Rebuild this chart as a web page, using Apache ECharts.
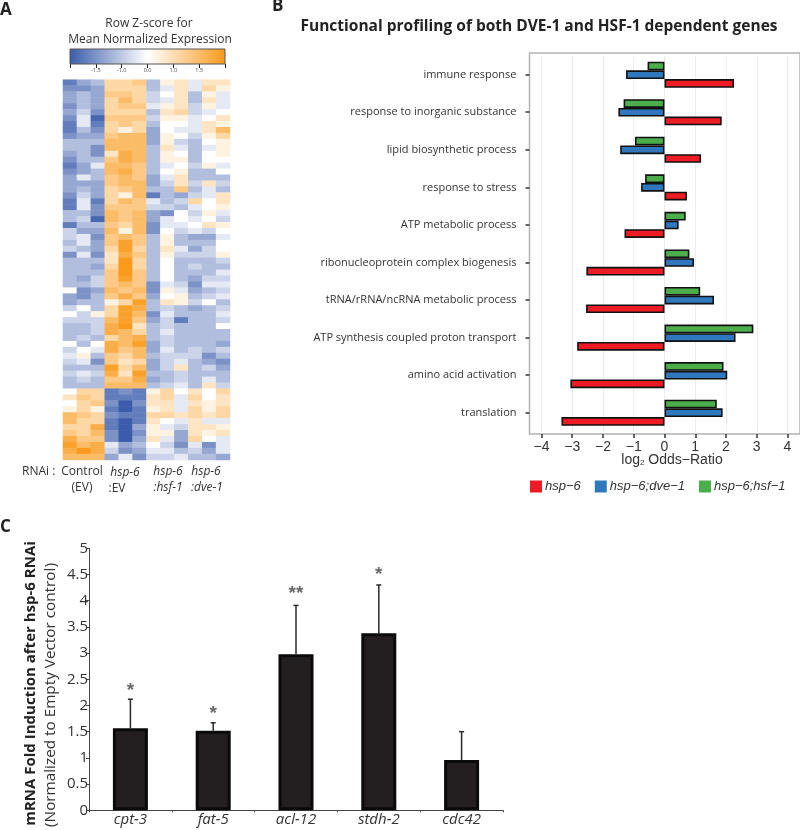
<!DOCTYPE html>
<html><head><meta charset="utf-8">
<style>html,body{margin:0;padding:0;background:#fff}#c{width:800px;height:830px}</style>
<script src="https://cdn.jsdelivr.net/npm/echarts@6/dist/echarts.min.js"></script>
</head><body><div id="c"></div>
<script>
// Panel A: heatmap (rows top to bottom; 3 replicates each of 4 conditions; scale -9..9)
const heatColumns = ['C1','C2','C3','H1','H2','H3','S1','S2','S3','D1','D2','D3'];
const heatValues = [
[-6,-4,-3,3,3,4,-3,1,2,-1,2,2],
[-5,-5,-4,3,3,3,-3,-1,2,-1,3,1],
[-4,-3,-4,4,4,3,-2,0,2,-3,1,-1],
[-4,-3,-4,3,5,3,-2,-1,2,-3,2,-1],
[-5,-3,-4,3,4,4,-1,1,2,-2,1,-1],
[-4,-2,-5,3,3,3,-3,2,3,-2,-1,0],
[-5,-1,-7,4,4,4,-2,1,1,-1,0,2],
[-6,-1,-6,3,4,3,-3,0,0,-1,2,1],
[-6,-3,-5,3,1,3,-4,0,-1,-1,2,5],
[-5,-4,-4,4,5,5,-4,1,0,-2,1,3],
[-3,-3,-3,5,5,5,-4,1,-2,-3,0,1],
[-3,-3,-5,5,5,5,-3,2,-1,-3,-1,1],
[-4,-3,-5,2,6,5,-3,1,0,-3,0,1],
[-5,-3,-3,4,6,5,-3,1,1,-3,0,0],
[-6,-4,-1,5,5,4,-3,-1,0,-2,1,-1],
[-5,-4,-3,5,6,4,-3,0,1,-3,-3,0],
[-4,-1,-3,4,5,4,-4,-1,2,-3,-3,-3],
[-4,-4,-4,4,5,5,-4,-2,2,-2,2,-2],
[-4,-3,-4,3,4,5,-3,-3,4,-3,-1,-3],
[-5,-2,-4,3,1,5,-6,-3,-4,-2,-1,2],
[-6,-1,-6,3,5,4,-1,-3,-2,3,0,2],
[-6,-1,-5,4,4,4,-2,-2,-3,-1,0,1],
[-3,-3,-5,5,4,5,-4,-5,0,-2,1,-1],
[-3,-2,-7,5,4,5,-4,-1,0,-1,0,-2],
[-6,-3,-3,4,3,5,-5,-1,-1,0,2,1],
[-2,-4,-4,5,1,5,-5,0,-2,-1,-2,0],
[-2,-1,-5,4,5,4,-3,1,-3,-4,-4,-1],
[-3,-1,-4,4,7,4,-3,1,-3,-3,-3,0],
[-2,-3,-4,3,7,3,-3,2,-1,-4,-2,0],
[-5,-1,-5,2,6,4,-3,1,-2,-2,-2,1],
[-3,-3,-3,2,9,3,-3,0,-3,-3,-3,-2],
[-3,-3,-4,3,9,3,-3,0,-3,-2,-3,-3],
[-3,-3,-3,4,8,4,-3,0,-3,-3,-3,-1],
[-3,-4,-2,4,7,4,-3,0,-3,-4,-2,-2],
[-3,-3,-2,4,5,4,-5,-1,-2,-5,-1,-1],
[0,-5,-4,5,4,5,-5,1,-1,-4,-3,-2],
[-4,-5,-3,4,6,4,-4,0,1,-3,-2,-1],
[-4,-3,-3,1,3,7,-3,2,1,-2,0,-3],
[-2,0,-3,3,7,6,-3,-2,-3,-4,-3,-2],
[0,-2,1,3,7,5,-5,-1,-3,-3,-3,-1],
[-2,-2,-2,5,7,4,-4,-2,-6,-3,-3,-2],
[-3,-3,-2,6,8,2,-3,-2,-3,-3,-3,0],
[-3,-3,-2,6,5,3,-3,-1,-3,-3,-3,-3],
[-3,-2,-3,3,5,6,-3,-2,-3,-3,-3,-3],
[0,-3,0,6,5,7,-4,-2,-3,-3,-3,-4],
[-2,0,-1,6,4,5,-4,-1,-3,-2,-3,-2],
[-1,1,-3,4,3,5,-3,-2,-2,-2,-5,-3],
[-2,-1,-5,4,2,3,-4,-2,-1,-3,-4,-5],
[-3,-3,-3,7,3,5,-4,-2,2,-3,-2,-4],
[-2,-1,-2,6,2,7,-3,-3,-2,-3,-3,-3],
[-3,-2,-3,4,4,6,-4,-3,-2,-3,-1,-3],
[-3,-3,-3,5,5,5,-3,-2,-1,-3,2,-2],
[0,3,3,-6,-5,-6,1,3,0,2,0,3],
[2,4,3,-6,-6,-6,2,3,-1,3,0,2],
[0,3,4,-5,-8,-5,2,2,-1,2,1,2],
[1,3,1,-6,-8,-6,1,2,-1,3,1,3],
[5,4,3,-5,-6,-6,3,3,2,3,2,3],
[5,3,3,-6,-8,-6,2,0,-1,2,-1,-1],
[3,3,6,-6,-9,-4,1,-1,-2,2,2,1],
[4,3,5,-5,-8,-5,1,1,-4,2,1,2],
[6,4,4,-5,-8,-4,2,-1,-4,3,0,-1],
[7,5,6,-1,-4,-3,0,-2,-5,-1,-5,-1],
[6,8,6,-2,-5,-4,-1,-1,-3,-2,-4,-1],
[5,5,5,-4,-1,-5,-2,-2,-1,-3,-3,-4]
];
const heatPalette = ['#3b5cab','#ffffff','#f99a1c'];
const scaleTicks = ['', '-1.5', '-1.0', '0.0', '1.0', '1.5', ''];

// Panel B
const terms = ['translation','amino acid activation','ATP synthesis coupled proton transport','tRNA/rRNA/ncRNA metabolic process','ribonucleoprotein complex biogenesis','ATP metabolic process','response to stress','lipid biosynthetic process','response to inorganic substance','immune response'];
const hsp6 = [-3.35,-3.06,-2.84,-2.55,-2.54,-1.30,0.73,1.19,1.86,2.26];
const hsp6dve1 = [1.89,2.04,2.31,1.61,0.96,0.46,-0.76,-1.44,-1.50,-1.25];
const hsp6hsf1 = [1.70,1.92,2.89,1.16,0.81,0.69,-0.63,-0.96,-1.33,-0.55];
const oddsTicks = [-4,-3,-2,-1,0,1,2,3,4];

// Panel C
const genes = ['cpt-3','fat-5','acl-12','stdh-2','cdc42'];
const foldMeans = [1.565,1.52,2.98,3.38,0.96];
const foldErrTops = [2.12,1.67,3.91,4.30,1.50];
const starHeights = [2.29,1.85,4.14,4.49,null];
const starMarks = ['*','*','**','*',''];

const SANS = '"Open Sans", sans-serif';
const HELV = '"Liberation Sans", Arial, sans-serif';
const heatData = [];
heatValues.forEach((row, y) => row.forEach((v, x) => heatData.push([x, y, v])));

function txt(x, y, text, o) {
  o = o || {};
  return {type:'text', x, y, rotation:o.rotation||0, silent:true, style:{
    text, fill:o.fill||'#333', font:(o.style||'normal')+' '+(o.weight||'normal')+' '+(o.size||12)+'px '+(o.family||SANS),
    align:o.align||'center', verticalAlign:'middle', rich:o.rich}};
}

const hiddenAxis = (gridIndex, extra) => Object.assign({gridIndex, show:false}, extra);

const option = {
  animation:false,
  backgroundColor:'#fff',
  visualMap:{show:false, seriesIndex:0, min:-7.5, max:7.5, inRange:{color:heatPalette}},
  legend:{left:525, top:475, itemWidth:12, itemHeight:12, itemGap:14, icon:'rect',
    data:['hsp\u22126','hsp\u22126;dve\u22121','hsp\u22126;hsf\u22121'],
    textStyle:{fontFamily:HELV, fontStyle:'italic', fontSize:13, color:'#333', padding:[0,0,0,-2]},
    itemStyle:{borderWidth:0}},
  grid:[
    {left:63, top:79.7, width:167, height:380.3},
    {left:70, top:49, width:155, height:15},
    {left:529.5, top:55.9, width:270, height:375.6},
    {left:529.5, top:53, width:271, height:381, show:true, borderColor:'#b3b3b3', borderWidth:1.5, backgroundColor:'transparent'},
    {left:89, top:548.3, width:414, height:262}
  ],
  xAxis:[
    hiddenAxis(0,{type:'category', data:heatColumns}),
    {gridIndex:1, type:'value', min:-3, max:3, interval:1, splitLine:{show:false},
      axisLine:{show:false}, axisTick:{length:4, lineStyle:{color:'#222', width:1}},
      axisLabel:{fontSize:5.5, color:'#444', margin:3, fontFamily:SANS, showMinLabel:true, showMaxLabel:true,
        formatter:v => scaleTicks[v+3]}},
    {gridIndex:2, type:'value', min:-4.39, max:4.39, position:'bottom', offset:2.5,
      axisLine:{show:false, onZero:false},
      axisTick:{show:true, customValues:oddsTicks, length:4, lineStyle:{color:'#333', width:1.5}},
      splitLine:{show:true, lineStyle:{color:'#ececec', width:1}},
      axisLabel:{customValues:oddsTicks, fontFamily:HELV, fontSize:14, color:'#333', margin:6,
        formatter:v => String(v).replace('-', '\u2212')}},
    hiddenAxis(3,{type:'value', min:0, max:1}),
    {gridIndex:4, type:'category', data:genes,
      axisLine:{lineStyle:{color:'#444', width:1}}, axisTick:{show:true, length:2, lineStyle:{color:'#444'}},
      axisLabel:{fontFamily:SANS, fontStyle:'italic', fontSize:15, color:'#333', margin:2}}
  ],
  yAxis:[
    hiddenAxis(0,{type:'category', inverse:true, data:heatValues.map((r,i)=>String(i))}),
    hiddenAxis(1,{type:'value', min:0, max:1}),
    {gridIndex:2, type:'category', data:terms, position:'left', axisLine:{show:false, onZero:false},
      axisTick:{show:true, alignWithLabel:true, length:4, lineStyle:{color:'#333', width:1.5}},
      axisLabel:{fontFamily:SANS, fontSize:11, color:'#333', margin:13}},
    hiddenAxis(3,{type:'value', min:0, max:1}),
    {gridIndex:4, type:'value', min:0, max:5, interval:0.5, splitLine:{show:false},
      axisLine:{show:true, lineStyle:{color:'#444', width:1}}, axisTick:{show:true, length:3, lineStyle:{color:'#444'}},
      axisLabel:{fontFamily:SANS, fontSize:15, color:'#333', margin:1}}
  ],
  series:[
    {type:'heatmap', xAxisIndex:0, yAxisIndex:0, data:heatData, itemStyle:{borderWidth:0}, progressive:0},
    {type:'custom', xAxisIndex:1, yAxisIndex:1, data:[[-3,3]], silent:true,
      renderItem:(p,api)=>{
        const a=api.coord([api.value(0),0]), b=api.coord([api.value(1),1]);
        return {type:'rect', shape:{x:a[0],y:b[1],width:b[0]-a[0],height:a[1]-b[1]},
          style:{fill:new echarts.graphic.LinearGradient(0,0,1,0,[
            {offset:0,color:heatPalette[0]},{offset:0.5,color:heatPalette[1]},{offset:1,color:heatPalette[2]}]),
            stroke:'#555', lineWidth:1}};
      }},
    ...[['hsp\u22126;hsf\u22121',hsp6hsf1,'#4cae4a'],['hsp\u22126;dve\u22121',hsp6dve1,'#2f78bd'],['hsp\u22126',hsp6,'#ed1c24']].map(s=>({
      type:'bar', name:s[0], xAxisIndex:2, yAxisIndex:2, data:s[1], barWidth:8.7, barGap:'0%',
      itemStyle:{color:s[2], borderColor:'#111', borderWidth:1.6}})),
    {type:'bar', xAxisIndex:4, yAxisIndex:4, data:foldMeans, barWidth:35, z:3,
      itemStyle:{color:'#231f20', borderColor:'#0a0a0a', borderWidth:3}},
    {type:'custom', xAxisIndex:4, yAxisIndex:4, silent:true, z:1,
      data:genes.map((g,i)=>[i,foldMeans[i],foldErrTops[i]]),
      renderItem:(p,api)=>{
        const a=api.coord([api.value(0),api.value(1)]), b=api.coord([api.value(0),api.value(2)]);
        const st={stroke:'#2a2a2a', lineWidth:1.5};
        return {type:'group', children:[
          {type:'line', shape:{x1:a[0],y1:a[1],x2:b[0],y2:b[1]}, style:st},
          {type:'line', shape:{x1:b[0]-2.5,y1:b[1],x2:b[0]+2.5,y2:b[1]}, style:st}]};
      }},
    {type:'scatter', xAxisIndex:4, yAxisIndex:4, silent:true, symbolSize:1, itemStyle:{color:'transparent'},
      data:genes.map((g,i)=>[i,starHeights[i]]),
      label:{show:true, position:'inside', formatter:p=>starMarks[p.dataIndex], fontFamily:HELV, fontWeight:'bold', fontSize:19, color:'#444'}}
  ],
  graphic:[
    txt(0,10,'A',{align:'left',weight:'bold',size:17,fill:'#222'}),
    txt(272,6,'B',{align:'left',weight:'bold',size:17,fill:'#222'}),
    txt(0,527,'C',{align:'left',weight:'bold',size:17,fill:'#222'}),
    txt(149,24,'Row Z-score for'),
    txt(150,40,'Mean Normalized Expression'),
    txt(539,27,'Functional profiling of both DVE-1 and HSF-1 dependent genes',{weight:'bold',size:15.5,fill:'#222'}),
    txt(22,472,'RNAi :',{align:'left'}),
    txt(82,472,'Control'),
    txt(82,488,'(EV)'),
    txt(125,473,'hsp-6',{style:'italic'}),
    txt(117,489,':EV'),
    txt(168,472,'hsp-6',{style:'italic'}),
    txt(168,488,':hsf-1',{style:'italic'}),
    txt(206,472,'hsp-6',{style:'italic'}),
    txt(207,488,':dve-1',{style:'italic'}),
    txt(672,460,'log{s|2} Odds\u2212Ratio',{family:HELV,size:14,rich:{s:{fontSize:8,verticalAlign:'bottom',padding:[6,0,0,0],fontFamily:HELV,fill:'#333'}}}),
    txt(31,683.5,'mRNA Fold Induction after hsp-6 RNAi',{weight:'bold',size:15,rotation:Math.PI/2,fill:'#222'}),
    txt(51,695,'(Normalized to Empty Vector control)',{size:15.3,rotation:Math.PI/2})
  ]
};
echarts.init(document.getElementById('c')).setOption(option);
</script></body></html>
